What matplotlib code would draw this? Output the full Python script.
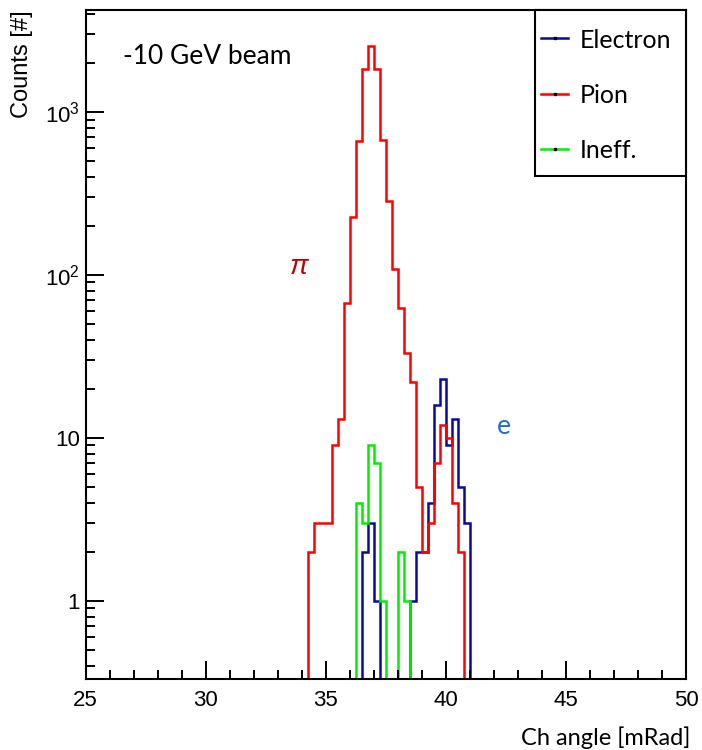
import numpy as np
import matplotlib
matplotlib.use("Agg")
import matplotlib.pyplot as plt
from matplotlib.patches import Rectangle
from matplotlib.lines import Line2D
from matplotlib.ticker import FixedLocator, NullFormatter

plt.rcParams['font.family'] = ['Liberation Sans', 'DejaVu Sans']
plt.rcParams['mathtext.fontset'] = 'custom'
plt.rcParams['mathtext.rm'] = 'Liberation Sans'
plt.rcParams['mathtext.it'] = 'Liberation Sans:italic'

# histogram bins, 0.25 mRad wide, 34.25 .. 41.0
edges = np.arange(34.25, 41.001, 0.25)

electron = [0, 0, 0, 0, 0, 0, 0, 0, 0,
            2, 3, 1, 0, 0, 0, 0, 0,
            1, 2, 2, 4, 16, 23, 9, 13, 5, 3]
pion = [2, 3, 3, 3, 9, 13, 67, 226, 667, 1850, 2540, 1830, 670, 286,
        109, 63, 33, 22, 5, 2, 3, 7, 12, 10, 4, 2, 0]
ineff = [0, 0, 0, 0, 0, 0, 0, 0,
         4, 3, 9, 7, 1, 0, 0, 2, 1,
         0, 0, 0, 0, 0, 0, 0, 0, 0, 0]

series = [("Electron", electron, "#0a0a96"),
          ("Pion", pion, "#ff0000"),
          ("Ineff.", ineff, "#00ee00")]

x_ticks = [25, 30, 35, 40, 45, 50]
y_ticks = [1, 10, 100, 1000]
y_tick_labels = ["1", "10", "$10^{2}$", "$10^{3}$"]

W, H = 702, 750
fig = plt.figure(figsize=(W / 100, H / 100), dpi=100)
ax = fig.add_axes([85.7 / W, 71 / H, (686 - 85.7) / W, (679 - 10) / H])


def fx(x):
    return x / W


def fy(y):
    return 1 - y / H


lw = 1.8
for name, vals, col in series:
    v = np.array(vals, dtype=float)
    v = np.where(v > 0, v, 1e-3)
    ax.stairs(v, edges, color=col, lw=lw, baseline=1e-3)

ax.set_yscale("log")
ax.set_xlim(25, 50)
ax.set_ylim(0.332, 4230)

ax.xaxis.set_major_locator(FixedLocator(x_ticks))
ax.xaxis.set_minor_locator(FixedLocator(np.arange(25, 50.1, 1)))
ax.yaxis.set_major_locator(FixedLocator(y_ticks))
minor_y = [m * 10 ** e for e in range(-1, 4) for m in range(2, 10)]
ax.yaxis.set_minor_locator(FixedLocator(minor_y))
ax.yaxis.set_minor_formatter(NullFormatter())
ax.set_xticklabels([str(t) for t in x_ticks])
ax.set_yticklabels(y_tick_labels)

ax.tick_params(which="both", direction="in", top=False, right=False,
               width=1.4, labelsize=16, color="black")
ax.tick_params(which="major", length=13)
ax.tick_params(which="minor", length=6.5)
ax.tick_params(axis="x", pad=8)
ax.tick_params(axis="y", pad=4)
for s in ax.spines.values():
    s.set_linewidth(1.5)

# axis titles
fig.text(fx(22), fy(10), "Counts [#]", rotation=90, ha="center", va="top",
         fontsize=17)
fig.text(fx(690), fy(738), "Ch angle [mRad]", ha="right", va="center",
         fontsize=17, family=["Lato", "DejaVu Sans"])

# annotations
fig.text(fx(123), fy(57), "-10 GeV beam", ha="left", va="center",
         fontsize=19, family=["Lato", "DejaVu Sans"])
fig.text(fx(300), fy(266), r"$\pi$", ha="center", va="center",
         fontsize=20, color="#c00000", family=["DejaVu Serif"])
fig.text(fx(504), fy(427), "e", ha="center", va="center",
         fontsize=19, color="#1f6fc0", family=["Lato", "DejaVu Sans"])

# legend box
fig.patches.append(Rectangle((fx(535), fy(176)), fx(686) - fx(535),
                             fy(10) - fy(176), transform=fig.transFigure,
                             facecolor="white", edgecolor="black", lw=1.5,
                             zorder=5))
for (name, vals, col), yy in zip(series, [38, 93.5, 149]):
    fig.lines.append(Line2D([fx(541), fx(568)], [fy(yy), fy(yy)],
                            transform=fig.transFigure, color=col, lw=lw,
                            zorder=6))
    fig.lines.append(Line2D([fx(554.5)], [fy(yy)], transform=fig.transFigure,
                            marker="s", ms=1.5, color="black", zorder=7))
    fig.text(fx(580), fy(yy + 2), name, ha="left", va="center",
             fontsize=18, family=["Lato", "DejaVu Sans"], zorder=8)

fig.savefig("out.png", dpi=100)
